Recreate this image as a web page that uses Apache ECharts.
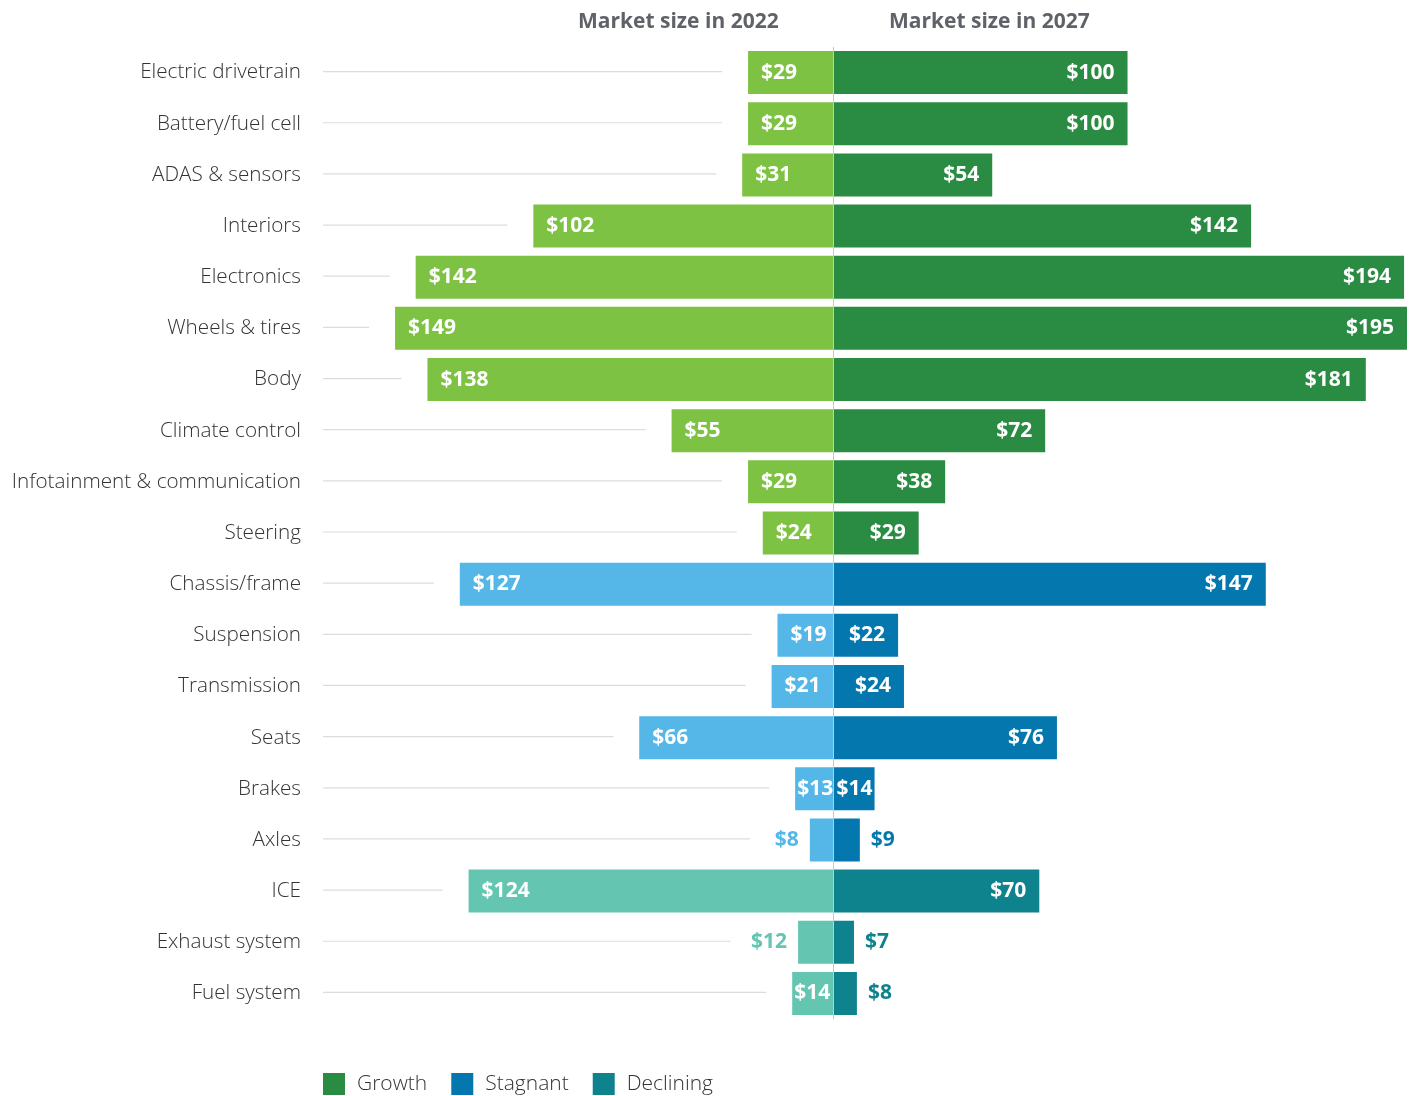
<!DOCTYPE html>
<html>
<head>
<meta charset="utf-8">
<script src="https://cdn.jsdelivr.net/npm/echarts@6/dist/echarts.min.js"></script>
<style>
  html, body { margin: 0; padding: 0; background: #fff; }
  #chart { width: 1416px; height: 1096px; }
</style>
</head>
<body>
<div id="chart"></div>
<script>
// Automotive component market size, $ billions
const categories = [
  'Electric drivetrain', 'Battery/fuel cell', 'ADAS & sensors', 'Interiors',
  'Electronics', 'Wheels & tires', 'Body', 'Climate control',
  'Infotainment & communication', 'Steering', 'Chassis/frame', 'Suspension',
  'Transmission', 'Seats', 'Brakes', 'Axles', 'ICE', 'Exhaust system', 'Fuel system'
];
const size2022 = [29, 29, 31, 102, 142, 149, 138, 55, 29, 24, 127, 19, 21, 66, 13, 8, 124, 12, 14];
const size2027 = [100, 100, 54, 142, 194, 195, 181, 72, 38, 29, 147, 22, 24, 76, 14, 9, 70, 7, 8];
const trend = [
  'Growth', 'Growth', 'Growth', 'Growth', 'Growth', 'Growth', 'Growth', 'Growth', 'Growth', 'Growth',
  'Stagnant', 'Stagnant', 'Stagnant', 'Stagnant', 'Stagnant', 'Stagnant',
  'Declining', 'Declining', 'Declining'
];
const groups = ['Growth', 'Stagnant', 'Declining'];

const palette = {
  Growth:    { dark: '#2a8c42', light: '#7dc242' },
  Stagnant:  { dark: '#0478ae', light: '#54b7e7' },
  Declining: { dark: '#0e828d', light: '#64c5b1' }
};

const FONT = '"Open Sans", "Noto Sans", sans-serif';
const FS = 21;
const FS_CAT = 20.7;

function labelFor(value, side, color) {
  const v = Math.abs(value);
  const base = {
    show: true,
    formatter: '$' + v,
    fontFamily: FONT,
    fontWeight: 'bold',
    fontSize: FS
  };
  if (v <= 12) {
    return Object.assign(base, {
      position: side === 'left' ? 'left' : 'right',
      distance: 11,
      color: color
    });
  }
  return Object.assign(base, {
    position: side === 'left' ? 'insideLeft' : 'insideRight',
    distance: v <= 14 ? 2 : 13,
    color: '#fff'
  });
}

function sideData(values, group, side, color) {
  return values.map((v, i) => {
    if (trend[i] !== group) return null;
    const val = side === 'left' ? -v : v;
    return { value: val, label: labelFor(val, side, color) };
  });
}

const series = [];
groups.forEach(g => {
  series.push({
    name: g, type: 'bar', stack: 'all', barWidth: 43,
    itemStyle: { color: palette[g].dark },
    data: sideData(size2027, g, 'right', palette[g].dark)
  });
});
groups.forEach(g => {
  series.push({
    name: g, type: 'bar', stack: 'all', barWidth: 43,
    itemStyle: { color: palette[g].light },
    data: sideData(size2022, g, 'left', palette[g].light)
  });
});

// Leader lines from the category label toward the left bar
series.push({
  type: 'custom',
  silent: true,
  z: 1,
  data: size2022.map((v, i) => [-v, i]),
  renderItem: function (params, api) {
    const v = Math.abs(api.value(0));
    const end = api.coord([-v, api.value(1)]);
    const gap = v <= 12 ? (v >= 10 ? 67 : 60) : 26;
    const x0 = params.coordSys.x;
    return {
      type: 'line',
      shape: { x1: x0, y1: end[1] - 1, x2: end[0] - gap, y2: end[1] - 1 },
      style: { stroke: '#dcdcdc', lineWidth: 1.2 }
    };
  }
});

// Center divider at zero
series.push({
  type: 'line',
  data: [],
  markLine: {
    silent: true,
    symbol: 'none',
    label: { show: false },
    lineStyle: { color: '#c8c8c8', type: 'solid', width: 1 },
    data: [{ xAxis: 0 }]
  },
  z: 5
});

const chart = echarts.init(document.getElementById('chart'));
chart.setOption({
  animation: false,
  grid: { left: 323, right: 9, top: 47, bottom: 77 },
  xAxis: {
    type: 'value', min: -173.5, max: 195, show: false
  },
  yAxis: {
    type: 'category', data: categories, inverse: true,
    axisLine: { show: false, onZero: false },
    axisTick: { show: false },
    axisLabel: {
      margin: 22, color: '#333', fontFamily: FONT, fontWeight: 300, fontSize: FS_CAT
    }
  },
  legend: {
    data: groups.map(g => ({ name: g, itemStyle: { color: palette[g].dark } })),
    left: 323, bottom: 1, padding: 0,
    itemWidth: 22, itemHeight: 22, itemGap: 24,
    icon: 'rect',
    textStyle: { color: '#333', fontFamily: FONT, fontWeight: 300, fontSize: FS, padding: [0, 0, 0, 7] },
    selectedMode: false
  },
  graphic: [
    {
      type: 'text', left: 578, top: 12,
      style: { text: 'Market size in 2022', fill: '#5f6369', font: 'bold ' + FS + 'px ' + FONT }
    },
    {
      type: 'text', left: 889, top: 12,
      style: { text: 'Market size in 2027', fill: '#5f6369', font: 'bold ' + FS + 'px ' + FONT }
    }
  ],
  series: series
});
</script>
</body>
</html>
